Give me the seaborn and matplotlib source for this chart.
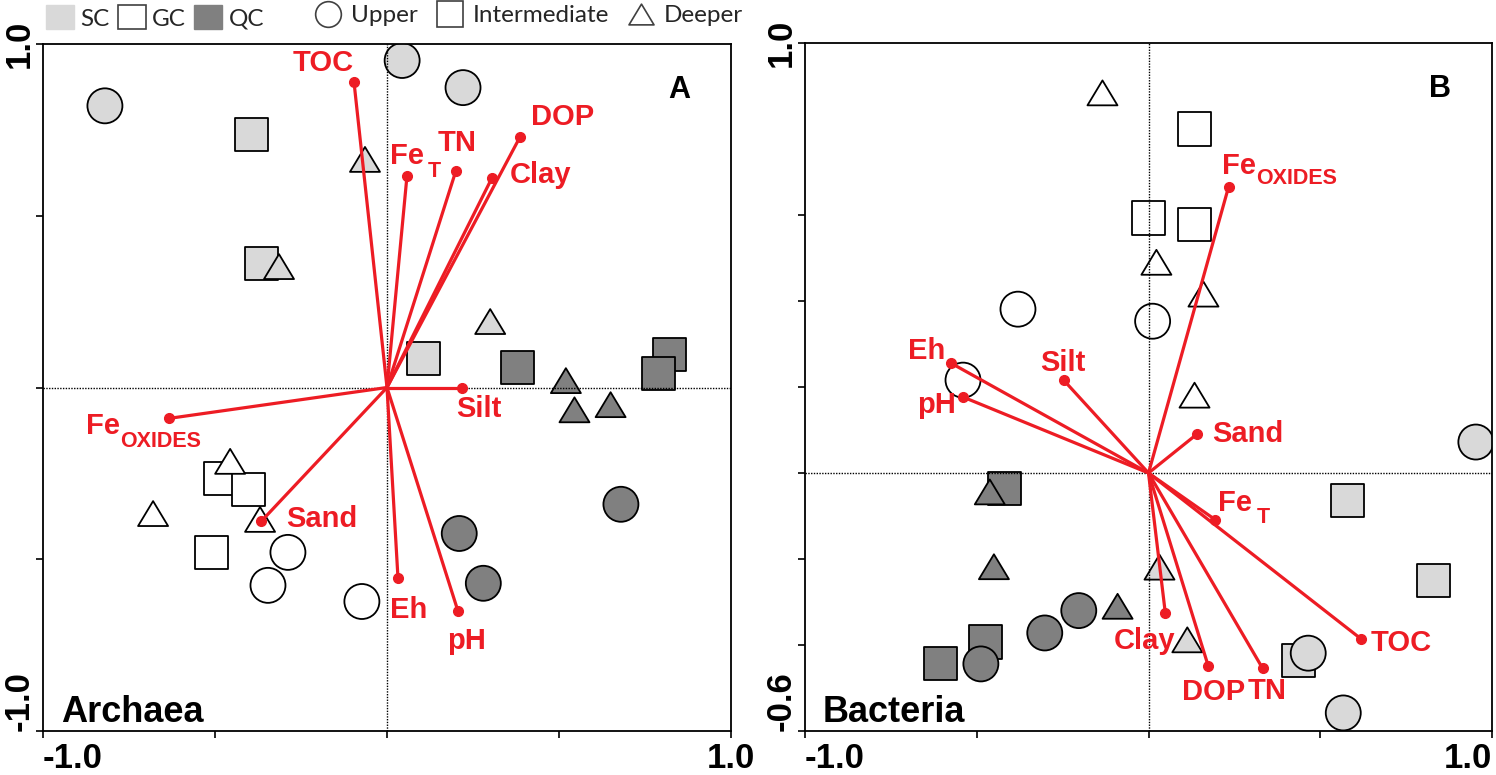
import numpy as np
import pandas as pd
import matplotlib
matplotlib.use("Agg")
import matplotlib.pyplot as plt
import seaborn as sns
from matplotlib.markers import MarkerStyle
from matplotlib.path import Path
from matplotlib.patches import Patch
from matplotlib.lines import Line2D

# ---------------- data ----------------
groups = ["SC", "GC", "QC"]
depths = ["Upper", "Intermediate", "Deeper"]

# Archaea (panel A) sample scores
arch_group = (["SC"] * 3 + ["GC"] * 3 + ["QC"] * 3) * 3
arch_depth = ["Upper"] * 9 + ["Intermediate"] * 9 + ["Deeper"] * 9
arch_x = [-0.82, 0.044, 0.221, -0.288, -0.346, -0.073, 0.21, 0.28, 0.68,
          -0.395, -0.366, 0.105, -0.483, -0.404, -0.509, 0.38, 0.82, 0.79,
          -0.064, -0.314, 0.30, -0.456, -0.68, -0.369, 0.52, 0.545, 0.65]
arch_y = [0.82, 0.952, 0.873, -0.48, -0.576, -0.623, -0.425, -0.57, -0.34,
          0.737, 0.361, 0.084, -0.265, -0.297, -0.48, 0.058, 0.096, 0.04,
          0.664, 0.352, 0.192, -0.215, -0.367, -0.384, 0.02, -0.065, -0.05]

# Bacteria (panel B) sample scores
bact_group = ["SC", "SC", "SC", "GC", "GC", "GC", "QC", "QC", "QC",
              "SC", "SC", "GC", "GC", "GC", "GC", "QC", "QC", "QC",
              "SC", "SC", "SC", "GC", "GC", "GC", "QC", "QC", "QC"]
bact_depth = ["Intermediate"] * 9 + ["Deeper"] * 9 + ["Upper"] * 9
bact_x = [0.578, 0.83, 0.436, 0.134, 0.0, 0.134, -0.419, -0.474, -0.605,
          0.032, 0.113, -0.134, 0.023, 0.16, 0.134, -0.462, -0.45, -0.09,
          0.953, 0.465, 0.567, 0.012, -0.38, -0.54, -0.203, -0.302, -0.488]
bact_y = [-0.063, -0.249, -0.437, 0.80, 0.593, 0.579, -0.037, -0.393, -0.444,
          -0.219, -0.388, 0.884, 0.49, 0.416, 0.181, -0.044, -0.218, -0.31,
          0.072, -0.419, -0.558, 0.353, 0.381, 0.216, -0.32, -0.372, -0.444]

# environmental vectors
env_names = ["TOC", "FeT", "TN", "DOP", "Clay", "Silt", "Eh", "pH", "FeOX", "Sand"]
arch_env_x = [-0.096, 0.058, 0.20, 0.387, 0.305, 0.218, 0.032, 0.206, -0.634, -0.366]
arch_env_y = [0.89, 0.615, 0.63, 0.73, 0.61, 0.0, -0.556, -0.65, -0.09, -0.39]
bact_env_x = [0.619, 0.195, 0.332, 0.174, 0.049, -0.247, -0.576, -0.541, 0.233, 0.142]
bact_env_y = [-0.386, -0.109, -0.454, -0.449, -0.326, 0.216, 0.256, 0.177, 0.665, 0.091]

# ---------------- styles / layout ----------------
RED = "#ed1c24"
fill_colors = {"SC": "#d9d9d9", "GC": "white", "QC": "#808080"}
tri = MarkerStyle(Path([(0, 0.83), (-1, -0.83), (1, -0.83), (0, 0.83)],
                       [Path.MOVETO, Path.LINETO, Path.LINETO, Path.CLOSEPOLY]))
marker_map = {"Upper": MarkerStyle("o"), "Intermediate": MarkerStyle("s"), "Deeper": tri}
size_map = {"Upper": 635, "Intermediate": 566, "Deeper": 467}

MAIN, SUB = 21, 15.5
# label pieces: (text, dx_pt, dy_pt, size)
arch_labels = {
    "TOC": [("TOC", -44, 7.5, MAIN)],
    "FeT": [("Fe", -12, 9.1, MAIN), ("T", 15, -0.8, SUB)],
    "TN": [("TN", -13, 14.5, MAIN)],
    "DOP": [("DOP", 8, 8.5, MAIN)],
    "Clay": [("Clay", 13, -3.9, MAIN)],
    "Silt": [("Silt", -4, -21.5, MAIN)],
    "Eh": [("Eh", -6, -28.5, MAIN)],
    "pH": [("pH", -8, -27.5, MAIN)],
    "FeOX": [("Fe", -60, -11.5, MAIN), ("OXIDES", -35, -20.8, SUB)],
    "Sand": [("Sand", 18, -3.9, MAIN)],
}
bact_labels = {
    "TOC": [("TOC", 7, -8.5, MAIN)],
    "FeT": [("Fe", 1.5, 6.5, MAIN), ("T", 30, -2.2, SUB)],
    "TN": [("TN", -11, -22.5, MAIN)],
    "DOP": [("DOP", -19, -24.5, MAIN)],
    "Clay": [("Clay", -37, -25.5, MAIN)],
    "Silt": [("Silt", -17, 6.5, MAIN)],
    "Eh": [("Eh", -31, 2.5, MAIN)],
    "pH": [("pH", -33, -11.5, MAIN)],
    "FeOX": [("Fe", -5, 9.5, MAIN), ("OXIDES", 20, 2.2, SUB)],
    "Sand": [("Sand", 11, -6, MAIN)],
}

sns.set_style("ticks")
plt.rcParams["font.family"] = ["Liberation Sans", "DejaVu Sans"]

W, H = 1496, 775
fig = plt.figure(figsize=(W / 100, H / 100), dpi=100)
axA = fig.add_axes([43 / W, 1 - 731 / H, 688 / W, 687 / H])
axB = fig.add_axes([805 / W, 1 - 731 / H, 687 / W, 688 / H])


def draw_panel(ax, gx, gy, grp, dep, ex, ey, labels, ylim, yticks, yticklabels,
               title, letter, right_label_ha):
    df = pd.DataFrame({"x": gx, "y": gy, "group": grp, "depth": dep})
    sns.scatterplot(data=df, x="x", y="y", hue="group", style="depth", size="depth",
                    hue_order=groups, style_order=depths, size_order=depths,
                    palette=fill_colors, markers=marker_map, sizes=size_map,
                    edgecolor="black", linewidth=1.3, legend=False, ax=ax, zorder=2)
    ax.axhline(0, color="black", lw=1.0, ls=(0, (1, 1)), zorder=3)
    ax.axvline(0, color="black", lw=1.0, ls=(0, (1, 1)), zorder=3)
    for name, x, y in zip(env_names, ex, ey):
        ax.plot([0, x], [0, y], color=RED, lw=2.3, zorder=4, solid_capstyle="round")
        ax.plot([x], [y], "o", color=RED, ms=7, zorder=5)
        for txt, dx, dy, fs in labels[name]:
            ax.annotate(txt, xy=(x, y), xytext=(dx, dy), textcoords="offset points",
                        ha="left", va="baseline", fontsize=fs, fontweight="bold",
                        color=RED, zorder=6)
    ax.set_xlim(-1, 1)
    ax.set_ylim(*ylim)
    ax.set_xticks([-1, -0.5, 0, 0.5, 1])
    ax.set_xticklabels(["-1.0", "", "", "", "1.0"], fontsize=25, fontweight="bold")
    ax.set_yticks(yticks)
    ax.set_yticklabels(yticklabels, fontsize=25, fontweight="bold", rotation=90)
    xl = ax.get_xticklabels()
    xl[0].set_ha("left")
    xl[-1].set_ha(right_label_ha)
    yl = ax.get_yticklabels()
    yl[0].set_va("bottom")
    yl[-1].set_va("center")
    ax.tick_params(direction="out", length=5, width=1.2, pad=3, colors="black")
    ax.tick_params(axis="y", pad=0.5)
    ax.set_xlabel("")
    ax.set_ylabel("")
    for s in ax.spines.values():
        s.set_visible(True)
        s.set_color("black")
        s.set_linewidth(1.3)
    ax.text(0.026, 0.013, title, transform=ax.transAxes, ha="left", va="baseline",
            fontsize=26, fontweight="bold", color="black")
    ax.text(0.925, 0.933, letter, transform=ax.transAxes, ha="center", va="center",
            fontsize=22, fontweight="bold", color="black")


draw_panel(axA, arch_x, arch_y, arch_group, arch_depth, arch_env_x, arch_env_y,
           arch_labels, (-1, 1), [-1, -0.5, 0, 0.5, 1], ["-1.0", "", "", "", "1.0"],
           "Archaea", "A", "center")
draw_panel(axB, bact_x, bact_y, bact_group, bact_depth, bact_env_x, bact_env_y,
           bact_labels, (-0.6, 1.0), [-0.6, -0.4, -0.2, 0, 0.2, 0.4, 0.6, 1.0],
           ["-0.6", "", "", "", "", "", "", "1.0"], "Bacteria", "B", "right")

# ---------------- legends ----------------
leg_font = {"family": ["Lato", "DejaVu Sans"], "size": 17.5}
h1 = [Patch(facecolor="#d9d9d9", edgecolor="#d9d9d9", lw=1),
      Patch(facecolor="white", edgecolor="#404040", lw=1.2),
      Patch(facecolor="#808080", edgecolor="#808080", lw=1)]
leg1 = fig.legend(h1, groups, loc="upper left", bbox_to_anchor=(45 / W, 1 - 4 / H),
                  ncol=3, frameon=False, prop=leg_font, handlelength=1.15,
                  handleheight=1.15, handletextpad=0.25, columnspacing=0.35,
                  borderpad=0.05, borderaxespad=0)
mk = dict(ls="none", markerfacecolor="white", markeredgecolor="#404040", markeredgewidth=1.2)
h2 = [Line2D([], [], marker="o", ms=18.5, **mk),
      Line2D([], [], marker="s", ms=19, **mk),
      Line2D([], [], marker=tri, ms=18, **mk)]
leg2 = fig.legend(h2, depths, loc="upper left", bbox_to_anchor=(312 / W, 1 - 4 / H),
                  ncol=3, frameon=False, prop=leg_font, handlelength=1.25,
                  handletextpad=0.3, columnspacing=0.7, borderpad=0.05,
                  borderaxespad=0)

fig.savefig("out.png", dpi=100)
